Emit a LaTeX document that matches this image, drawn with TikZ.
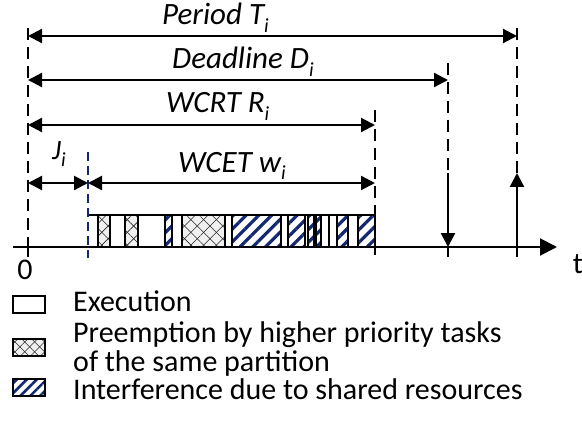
\documentclass[tikz,border=0pt]{standalone}
\usepackage{fontspec}
\setmainfont{Carlito}
\usetikzlibrary{arrows.meta,patterns.meta}
\definecolor{navyc}{RGB}{18,40,112}
\newcommand\subs[1]{\raisebox{-0.25em}{\fontsize{20}{20}\selectfont #1}}
\begin{document}
\begin{tikzpicture}[x=1pt,y=-1pt,
  >={Triangle[length=14pt,width=14pt]},
  dim/.style={line width=2.2pt,<->},
  guide/.style={line width=2pt,dash pattern=on 12pt off 7pt},
  bguide/.style={draw=navyc,line width=1.4pt,dash pattern=on 9pt off 5pt},
  lbl/.style={font=\fontsize{31}{36}\selectfont\itshape,inner sep=0pt,anchor=base west},
  leg/.style={font=\fontsize{30}{34}\selectfont,inner sep=0pt,anchor=base west},
  seg/.style={draw=black,line width=2pt},
  segE/.style={seg,fill=white},
  segP/.style={seg,preaction={fill=gray!12},
    preaction={pattern={Lines[angle=45,distance=9pt,line width=0.6pt]},pattern color=black!85},
    preaction={pattern={Lines[angle=-45,distance=9pt,line width=0.6pt]},pattern color=black!85}},
  segI/.style={seg,preaction={fill=white},
    preaction={pattern={Lines[angle=45,distance=9pt,line width=3.2pt]},pattern color=navyc}},
  legP/.style={seg,preaction={fill=gray!12},
    preaction={pattern={Lines[angle=45,distance=7pt,line width=0.5pt]},pattern color=black!85},
    preaction={pattern={Lines[angle=-45,distance=7pt,line width=0.5pt]},pattern color=black!85}},
  legI/.style={seg,preaction={fill=white},
    preaction={pattern={Lines[angle=45,distance=7pt,line width=2.6pt]},pattern color=navyc}},
]
\useasboundingbox (0,0) rectangle (582,436);

% key coordinates
\coordinate (o0) at (28,28);
\coordinate (o1) at (28,257);
\coordinate (pA) at (28,36);  \coordinate (pB) at (517,36);
\coordinate (dA) at (28,80);  \coordinate (dB) at (448,80);
\coordinate (rA) at (28,125); \coordinate (rB) at (375,125);
\coordinate (jA) at (28,183); \coordinate (jB) at (88,183);
\coordinate (wB) at (375,183);
\coordinate (ax0) at (13,247); \coordinate (ax1) at (557,247);
\coordinate (b0) at (88,152); \coordinate (b1) at (88,258);
\coordinate (r0) at (375,110); \coordinate (r1) at (375,258);
\coordinate (dl0) at (448,63); \coordinate (dl1) at (448,173);
\coordinate (dl2) at (448,247); \coordinate (dl3) at (448,257);
\coordinate (tl0) at (517,28); \coordinate (tl1) at (517,173);
\coordinate (tl2) at (517,257);
\coordinate (bt0) at (88,215); \coordinate (bt1) at (375,215);

% execution bar
\foreach \a/\b in {110/125,138/165,172/182,225/232,281/288,305/308,314/316,321/329,329/337,348/358}
  \draw[segE] (\a,215) rectangle (\b,247);
\foreach \a/\b in {98/110,125/138,182/225}
  \draw[segP] (\a,215) rectangle (\b,247);
\foreach \a/\b in {165/172,232/281,288/305,308/314,316/321,337/348,358/375}
  \draw[segI] (\a,215) rectangle (\b,247);
\draw[line width=1.8pt] (bt0) -- (bt1);

% guide lines
\draw[guide] (o0) -- (o1);
\draw[line width=2pt] (28,241) -- (o1);
\draw[bguide] (b0) -- (b1);
\draw[guide] (r0) -- (r1);
\draw[guide] (dl0) -- (dl1);
\draw[guide] (tl0) -- (tl1);

% axis
\draw[line width=2pt,-{Triangle[length=17pt,width=17pt]}] (ax0) -- (ax1);
\draw[line width=2.4pt,->] (dl1) -- (dl2);
\draw[line width=2.4pt] (dl2) -- (dl3);
\draw[line width=2.4pt,->] (tl2) -- (tl1);

% dimension arrows
\draw[dim] (pA) -- (pB);
\draw[dim] (dA) -- (dB);
\draw[dim] (rA) -- (rB);
\draw[dim] (jA) -- (jB);
\draw[dim] (jB) -- (wB);

% labels
\node[lbl] (lp) at (162,25) {Period T\subs{i}};
\node[lbl] (ld) at (172,69) {Deadline D\subs{i}};
\node[lbl] (lr) at (166,113) {WCRT R\subs{i}};
\node[lbl,font=\fontsize{28}{30}\selectfont\itshape] (lj) at (52,160) {J\subs{i}};
\node[lbl] (lw) at (178,172) {WCET w\subs{i}};
\node[leg,anchor=base] (l0) at (25,279) {0};
\node[leg,anchor=base] (lt) at (578,273) {t};

% legend
\draw[segE] (13,296) rectangle (45,313);
\node[leg] (e1) at (73,311) {Execution};
\draw[legP] (13,339) rectangle (45,356);
\node[leg] (e2) at (73,342) {Preemption by higher priority tasks};
\node[leg] (e3) at (73,371) {of the same partition};
\draw[legI] (13,379) rectangle (45,396);
\node[leg] (e4) at (73,399) {Interference due to shared resources};
\end{tikzpicture}
\end{document}
